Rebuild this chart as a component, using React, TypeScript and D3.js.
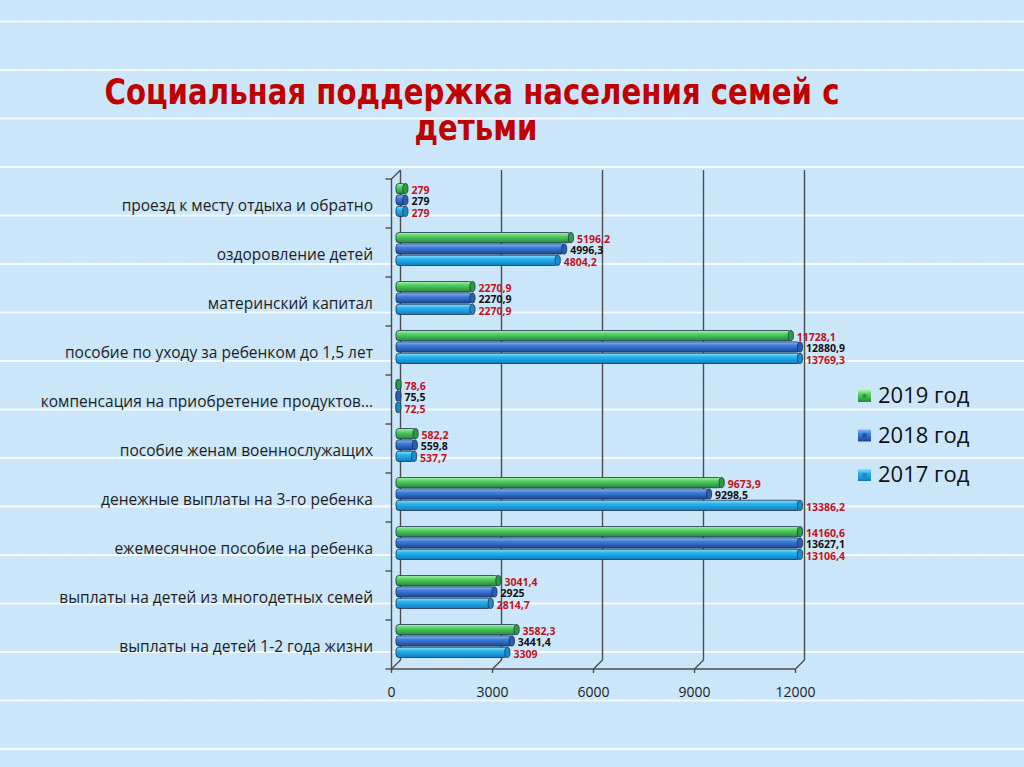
import React, { useEffect, useRef } from "react";
import * as d3 from "d3";

const categories = [
	"проезд к месту отдыха и обратно",
	"оздоровление детей",
	"материнский капитал",
	"пособие по уходу за ребенком до 1,5 лет",
	"компенсация на приобретение продуктов…",
	"пособие женам военнослужащих",
	"денежные выплаты на 3-го ребенка",
	"ежемесячное пособие на ребенка",
	"выплаты на детей из многодетных семей",
	"выплаты на детей 1-2 года жизни",
];
const values2019 = [279, 5196.2, 2270.9, 11728.1, 78.6, 582.2, 9673.9, 14160.6, 3041.4, 3582.3];
const values2018 = [279, 4996.3, 2270.9, 12880.9, 75.5, 559.8, 9298.5, 13627.1, 2925, 3441.4];
const values2017 = [279, 4804.2, 2270.9, 13769.3, 72.5, 537.7, 13386.2, 13106.4, 2814.7, 3309];
const seriesNames = ["2019 год", "2018 год", "2017 год"];
const xTicks = [0, 3000, 6000, 9000, 12000];

const W = 1024;
const H = 767;

export default function App() {
	const svgRef = useRef(null);

	useEffect(() => {
		const svg = d3.select(svgRef.current);
		svg.selectAll("*").remove();
		svg.attr("width", W).attr("height", H).attr("viewBox", [0, 0, W, H]);

		const series = [
			{ name: seriesNames[0], values: values2019, top: "#a8f5a8", mid: "#55d163", bot: "#23893a", cap: "#2f9a40", dot: "#2a9a3a", label: "#c3121c" },
			{ name: seriesNames[1], values: values2018, top: "#8db8f4", mid: "#3f7fdc", bot: "#1a4592", cap: "#2a5cb0", dot: "#1f4aa0", label: "#111111" },
			{ name: seriesNames[2], values: values2017, top: "#8ee2ff", mid: "#27b3ef", bot: "#127cc0", cap: "#1a8ccc", dot: "#1a86c6", label: "#c3121c" },
		];

		const defs = svg.append("defs");
		series.forEach((s, i) => {
			const g = defs.append("linearGradient").attr("id", `bar${i}`).attr("x1", 0).attr("x2", 0).attr("y1", 0).attr("y2", 1);
			g.append("stop").attr("offset", "0%").attr("stop-color", s.top);
			g.append("stop").attr("offset", "35%").attr("stop-color", s.mid);
			g.append("stop").attr("offset", "100%").attr("stop-color", s.bot);
		});
		const pat = defs.append("pattern").attr("id", "fine").attr("width", 3).attr("height", 3).attr("patternUnits", "userSpaceOnUse");
		pat.append("path").attr("d", "M0,0.5H3M0.5,0V3").attr("stroke", "#ffffff").attr("stroke-opacity", 0.07).attr("stroke-width", 1);

		// slide background
		svg.append("rect").attr("width", W).attr("height", H).attr("fill", "#c8e5f9");
		svg.append("rect").attr("width", W).attr("height", H).attr("fill", "url(#fine)");
		svg
			.append("g")
			.selectAll()
			.data(d3.range(21.5, H, 48.5))
			.join("line")
			.attr("x1", 0)
			.attr("x2", W)
			.attr("y1", (d) => d)
			.attr("y2", (d) => d)
			.attr("stroke", "#f4fbff")
			.attr("stroke-width", 2);

		// title
		const title = svg
			.append("g")
			.attr("fill", "#c00000")
			.attr("font-family", "'DejaVu Sans Condensed', 'DejaVu Sans', sans-serif")
			.attr("font-weight", "bold")
			.attr("font-size", 36)
			.attr("text-anchor", "middle");
		title.append("text").attr("x", 472).attr("y", 104).attr("textLength", 735).attr("lengthAdjust", "spacingAndGlyphs").text("Социальная поддержка населения семей с");
		title.append("text").attr("x", 476).attr("y", 140).attr("textLength", 123).attr("lengthAdjust", "spacingAndGlyphs").text("детьми");

		// 3D geometry
		const depth = 9;
		const x = d3.scaleLinear().domain([0, 12000]).range([391.5, 795.5]).clamp(true);
		const y = d3.scaleBand().domain(categories).range([179, 669]);
		const inner = d3.scaleBand().domain(seriesNames).range([9, 42]).paddingInner(0.1);

		const grid = svg.append("g").attr("fill", "none").attr("stroke", "#4d4d4d").attr("stroke-width", 1.4);
		grid
			.selectAll()
			.data(xTicks)
			.join("path")
			.attr("d", (d) => `M${x(d) + depth},${179 - depth}V${669 - depth}L${x(d)},669`);
		grid.append("path").attr("d", `M${x(0)},669H${x(12000)}`);
		grid.append("path").attr("d", `M${x(0) + depth},${179 - depth}L${x(0)},179V669`);
		grid
			.selectAll()
			.data(xTicks)
			.join("path")
			.attr("d", (d) => `M${x(d)},669V673`);
		grid
			.selectAll()
			.data(d3.range(0, categories.length + 1))
			.join("path")
			.attr("d", (d) => `M${x(0) - 6},${179 + d * y.step()}H${x(0)}`);

		// bars
		const barGroups = svg
			.append("g")
			.selectAll()
			.data(categories)
			.join("g")
			.attr("transform", (c) => `translate(${depth / 2},${y(c) - depth / 2})`);

		series.forEach((s, si) => {
			const bars = barGroups.append("g");
			const h = inner.bandwidth();
			const yy = inner(s.name);
			bars
				.append("rect")
				.attr("x", x(0))
				.attr("y", yy)
				.attr("width", (c, i) => Math.max(x(s.values[i]) - x(0), 1))
				.attr("height", h)
				.attr("rx", 3)
				.attr("fill", `url(#bar${si})`)
				.attr("stroke", "#1d3350")
				.attr("stroke-width", 0.8);
			bars
				.append("ellipse")
				.attr("cx", (c, i) => x(s.values[i]))
				.attr("cy", yy + h / 2)
				.attr("rx", 2.6)
				.attr("ry", h / 2)
				.attr("fill", s.cap)
				.attr("stroke", "#1d3350")
				.attr("stroke-width", 0.8);
			bars
				.append("text")
				.attr("x", (c, i) => x(s.values[i]) + 6)
				.attr("y", yy + h / 2 + 1.5)
				.attr("dy", "0.35em")
				.attr("font-family", "'Open Sans', sans-serif")
				.attr("font-weight", "bold")
				.attr("font-size", 10.5)
				.attr("fill", s.label)
				.text((c, i) => String(s.values[i]).replace(".", ","));
		});

		// category labels
		svg
			.append("g")
			.attr("font-family", "'Open Sans', sans-serif")
			.attr("font-size", 15.5)
			.attr("fill", "#1e1e1e")
			.attr("text-anchor", "end")
			.selectAll()
			.data(categories)
			.join("text")
			.attr("x", 373)
			.attr("y", (c) => y(c) + y.bandwidth() / 2 + 2)
			.attr("dy", "0.35em")
			.text((c) => c);

		// x tick labels
		svg
			.append("g")
			.attr("font-family", "'Open Sans', sans-serif")
			.attr("font-size", 14)
			.attr("fill", "#1e1e1e")
			.attr("text-anchor", "middle")
			.selectAll()
			.data(xTicks)
			.join("text")
			.attr("x", (d) => x(d))
			.attr("y", 697)
			.text((d) => d);

		// legend
		const legend = svg
			.append("g")
			.selectAll()
			.data(series)
			.join("g")
			.attr("transform", (s, i) => `translate(858,${396 + i * 39.5})`);
		legend.append("rect").attr("x", 0).attr("y", -6).attr("width", 13).attr("height", 12).attr("fill", (s, i) => `url(#bar${i})`);
		legend.append("rect").attr("x", 4.5).attr("y", -2).attr("width", 4).attr("height", 4).attr("fill", (s) => s.dot);
		legend
			.append("text")
			.attr("x", 20)
			.attr("y", 7)
			.attr("font-family", "'Open Sans', sans-serif")
			.attr("font-size", 22)
			.attr("fill", "#111")
			.text((s) => s.name);
	}, []);

	return <svg ref={svgRef} style={{ position: "absolute", left: 0, top: 0, display: "block" }} />;
}
